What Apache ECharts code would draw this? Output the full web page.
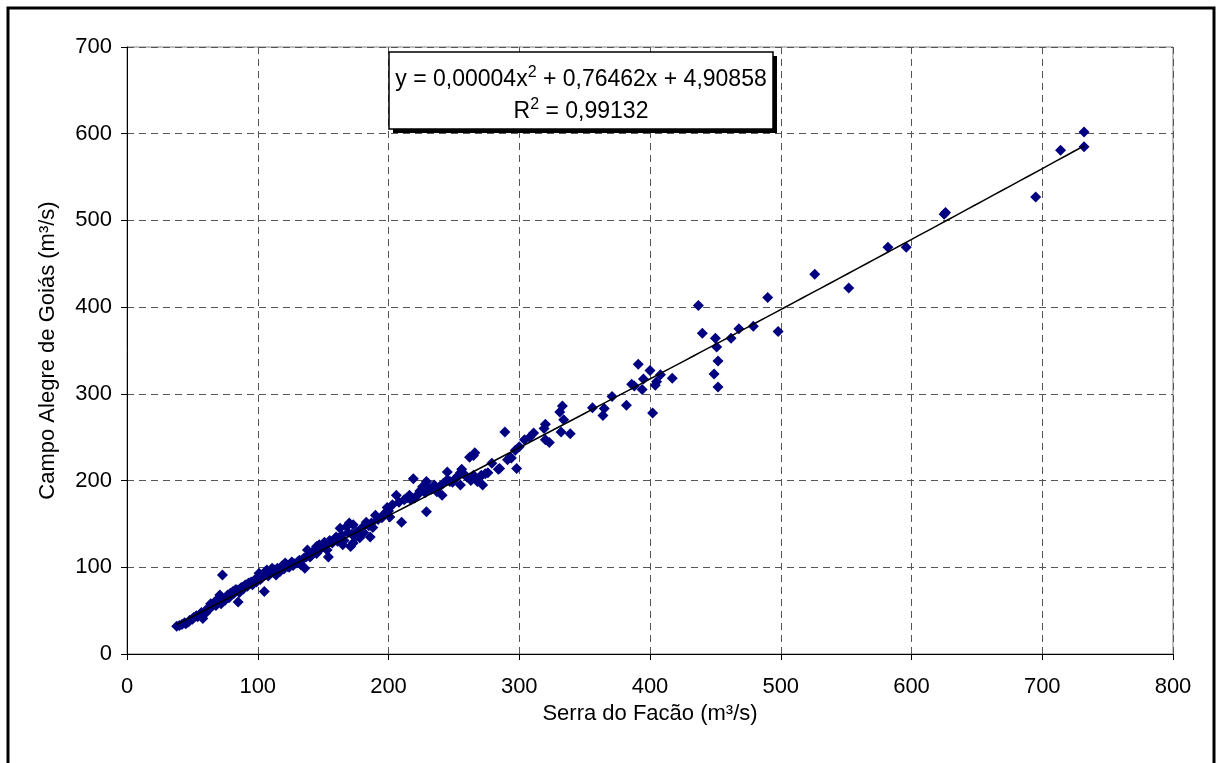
<!DOCTYPE html>
<html>
<head>
<meta charset="utf-8">
<script src="https://cdn.jsdelivr.net/npm/echarts@6/dist/echarts.min.js"></script>
<style>
html,body{margin:0;padding:0;background:#fff;}
#c{width:1218px;height:763px;}
</style>
</head>
<body>
<div id="c"></div>
<script>
// Serra do Facão (x) vs Campo Alegre de Goiás (y), m³/s
const serra = [38,40,42,44,45,47,48,50,51,53,54,56,57,58,60,61,62,63,64,65,66,67,68,69,70,71,72,73,74,75,76,77,78,79,80,81,82,83,84,85,86,87,88,89,90,91,92,93,94,95,96,97,98,99,100,101,102,103,104,105,106,107,108,109,110,111,112,113,114,115,116,117,118,119,120,121,122,123,124,125,126,127,128,130,131,132,133,135,136,137,138,139,140,141,142,143,145,145,147,148,150,151,152,153,154,155,157,159,160,161,163,164,165,166,168,169,170,171,172,173,173,175,176,178,180,181,183,185,186,187,188,190,192,195,197,199,200,201,203,206,208,210,212,214,216,217,219,220,222,224,226,228,229,229,231,233,235,237,239,241,242,245,245,247,249,251,253,255,255,256,258,260,262,263,265,265,266,268,270,271,272,274,276,279,284,285,289,291,293,294,297,298,300,304,308,311,319,320,320,323,331,332,333,334,339,356,364,365,371,382,386,388,391,394,395,400,402,404,405,408,417,437,440,449,450,451,452,452,462,468,479,490,498,526,552,582,596,625,626,695,714,732,732];
const campo = [32,33,34,36,35,37,39,40,42,44,43,46,48,41,47,50,53,52,58,55,57,60,56,62,64,68,58,91,63,62,66,68,65,70,69,72,70,74,74,60,71,76,77,75,79,80,78,82,81,83,80,84,86,83,88,93,86,88,90,72,95,97,90,92,96,99,94,97,91,99,96,95,100,102,98,105,103,101,100,104,106,102,104,105,107,108,103,110,99,112,120,115,112,114,118,117,116,124,126,121,124,129,125,120,112,131,128,133,135,130,145,137,126,131,147,140,151,124,138,149,128,135,141,134,146,140,152,148,135,151,146,160,155,157,162,169,165,158,172,183,175,152,178,180,183,178,202,180,183,188,193,186,199,164,191,190,195,187,193,183,197,201,210,199,198,202,205,195,209,213,207,204,227,200,206,229,232,199,204,206,195,208,209,220,213,214,256,224,227,226,235,214,239,247,250,255,260,265,247,244,279,256,286,270,254,284,275,283,297,287,311,309,334,305,317,327,278,310,314,322,318,402,370,323,364,354,338,308,364,375,378,411,372,438,422,469,469,507,509,527,581,585,602];
// Trendline shown on the chart: y = 0,00004x² + 0,76462x + 4,90858
const trendA = 0.00004, trendB = 0.76462, trendC = 4.90858;
const xTicks = [0,100,200,300,400,500,600,700,800];
const yTicks = [0,100,200,300,400,500,600,700];

const points = serra.map((x,i)=>[x,campo[i]]);
const xMin = Math.min(...serra), xMax = Math.max(...serra);
const trend = [];
for (let k=0;k<=100;k++){ const x = xMin + (xMax-xMin)*k/100; trend.push([x, trendA*x*x + trendB*x + trendC]); }

const FONT = 'Liberation Sans, Arial, sans-serif';
const chart = echarts.init(document.getElementById('c'), null, {renderer:'canvas'});
const richSup = {
  n:{fontFamily:FONT, fontSize:23, color:'#000', lineHeight:30},
  s:{fontFamily:FONT, fontSize:16, color:'#000', lineHeight:30, verticalAlign:'top', padding:[0,0,12,0]}
};
chart.setOption({
  animation:false,
  backgroundColor:'#fff',
  grid:{left:127, right:45, top:47, bottom:109, show:true, borderColor:'#808080', borderWidth:1, backgroundColor:'#fff'},
  xAxis:{
    type:'value', min:xTicks[0], max:xTicks[xTicks.length-1], interval:100,
    name:'Serra do Facão (m³/s)', nameLocation:'middle', nameGap:38,
    nameTextStyle:{fontFamily:FONT, fontSize:22, color:'#000'},
    axisLine:{show:true, onZero:false, lineStyle:{color:'#000', width:1}},
    axisTick:{show:true, inside:false, length:6, lineStyle:{color:'#000'}},
    axisLabel:{fontFamily:FONT, fontSize:22, color:'#000', margin:22},
    splitLine:{show:true, lineStyle:{color:'#555', width:1, type:[7,5]}}
  },
  yAxis:{
    type:'value', min:yTicks[0], max:yTicks[yTicks.length-1], interval:100,
    name:'Campo Alegre de Goiás (m³/s)', nameLocation:'middle', nameGap:68,
    nameTextStyle:{fontFamily:FONT, fontSize:22, color:'#000'},
    axisLine:{show:true, onZero:false, lineStyle:{color:'#000', width:1}},
    axisTick:{show:true, inside:false, length:6, lineStyle:{color:'#000'}},
    axisLabel:{fontFamily:FONT, fontSize:22, color:'#000', margin:15},
    splitLine:{show:true, lineStyle:{color:'#555', width:1, type:[7,5]}}
  },
  series:[
    {type:'scatter', data:points, symbol:'diamond', symbolSize:11,
     itemStyle:{color:'#000080', opacity:1}, z:3},
    {type:'line', data:trend, showSymbol:false, smooth:false,
     lineStyle:{color:'#000', width:1.5}, z:4}
  ],
  graphic:[
    {type:'rect', shape:{x:8, y:8, width:1206, height:770}, style:{fill:'none', stroke:'#000', lineWidth:3}, z:100},
    {type:'rect', shape:{x:393, y:56, width:384, height:77}, style:{fill:'#000'}, z:101},
    {type:'rect', shape:{x:389, y:52, width:384, height:77}, style:{fill:'#fff', stroke:'#000', lineWidth:1.5}, z:102},
    {type:'text', x:581, y:80, z:103, style:{
      text:'{n|y = 0,00004x}{s|2}{n| + 0,76462x + 4,90858}',
      align:'center', verticalAlign:'middle', rich:richSup
    }},
    {type:'text', x:581, y:112, z:103, style:{
      text:'{n|R}{s|2}{n| = 0,99132}',
      align:'center', verticalAlign:'middle', rich:richSup
    }}
  ]
});
</script>
</body>
</html>
